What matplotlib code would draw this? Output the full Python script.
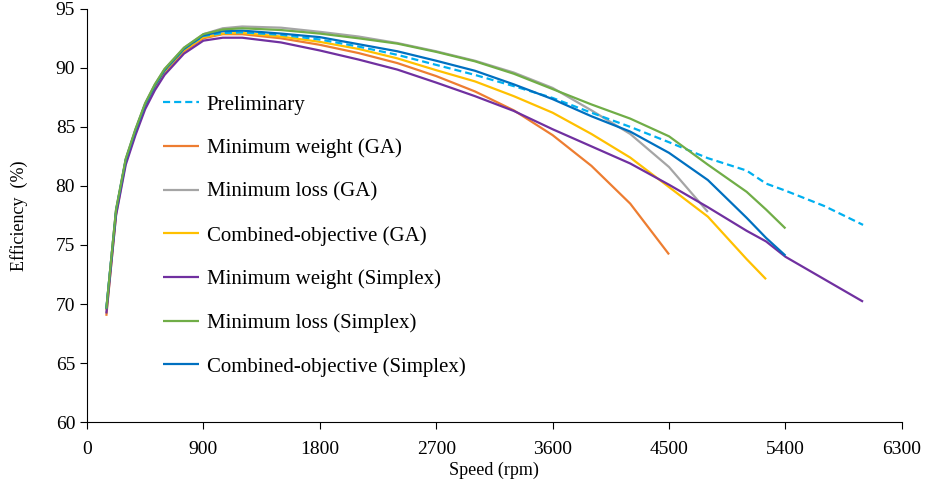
import numpy as np
import matplotlib
matplotlib.use("Agg")
import matplotlib.pyplot as plt

plt.rcParams['font.family'] = ['Liberation Serif', 'DejaVu Serif']

speed = [150, 225, 300, 375, 450, 525, 600, 750, 900, 1050, 1200, 1500, 1800, 2100, 2400, 2700,
         3000, 3300, 3600, 3900, 4200, 4500, 4800, 5100, 5250, 5400, 5700, 6000]

preliminary = [69.6, 77.9, 82.2, 84.7, 86.9, 88.5, 89.8, 91.6, 92.7, 92.95, 93.0, 92.8, 92.4, 91.8,
               91.1, 90.25, 89.4, 88.45, 87.45, 86.2, 85.0, 83.7, 82.35, 81.3, 80.2, 79.6, 78.3, 76.7]
min_weight_ga = [69.0, 77.6, 82.0, 84.5, 86.7, 88.3, 89.6, 91.4, 92.5, 92.85, 92.85, 92.5, 91.95,
                 91.25, 90.4, 89.3, 88.0, 86.4, 84.3, 81.7, 78.5, 74.2]
min_loss_ga = [69.6, 78.0, 82.3, 84.8, 87.0, 88.6, 89.9, 91.7, 92.85, 93.35, 93.5, 93.4, 93.05,
               92.65, 92.1, 91.4, 90.6, 89.6, 88.3, 86.4, 84.4, 81.6, 77.8]
combined_ga = [69.5, 77.8, 82.1, 84.6, 86.8, 88.4, 89.7, 91.5, 92.6, 92.9, 92.95, 92.65, 92.2,
               91.6, 90.8, 89.8, 88.85, 87.6, 86.2, 84.4, 82.4, 79.9, 77.4, 73.8, 72.1]
min_weight_simplex = [69.2, 77.5, 81.8, 84.3, 86.5, 88.1, 89.4, 91.2, 92.3, 92.55, 92.55, 92.15,
                      91.47, 90.7, 89.85, 88.75, 87.6, 86.35, 84.8, 83.35, 81.9, 80.1, 78.2, 76.2,
                      75.3, 74.0, 72.1, 70.2]
min_loss_simplex = [69.6, 78.0, 82.3, 84.8, 87.0, 88.6, 89.9, 91.7, 92.85, 93.25, 93.35, 93.2, 92.9,
                    92.5, 92.05, 91.35, 90.55, 89.5, 88.2, 86.9, 85.7, 84.2, 81.8, 79.5, 78.0, 76.4]
combined_simplex = [69.6, 77.9, 82.2, 84.7, 86.9, 88.5, 89.8, 91.6, 92.75, 93.1, 93.15, 92.9, 92.6,
                    92.0, 91.4, 90.6, 89.75, 88.6, 87.35, 85.9, 84.6, 82.8, 80.5, 77.3, 75.6, 74.1]

labels = ["Preliminary", "Minimum weight (GA)", "Minimum loss (GA)", "Combined-objective (GA)",
          "Minimum weight (Simplex)", "Minimum loss (Simplex)", "Combined-objective (Simplex)"]
series = [preliminary, min_weight_ga, min_loss_ga, combined_ga,
          min_weight_simplex, min_loss_simplex, combined_simplex]
colors = ["#00B0F0", "#ED7D31", "#A5A5A5", "#FFC000", "#7030A0", "#70AD47", "#0070C0"]
styles = ["--", "-", "-", "-", "-", "-", "-"]

xticks = [0, 900, 1800, 2700, 3600, 4500, 5400, 6300]
yticks = [60, 65, 70, 75, 80, 85, 90, 95]

fig = plt.figure(figsize=(9.25, 4.88), dpi=100)
ax = fig.add_axes([0.094, 0.135, 0.881, 0.847])

order = [2, 1, 3, 0, 4, 6, 5]
handles = {}
for i in order:
    ys = series[i]
    kw = dict(color=colors[i], lw=1.6, solid_capstyle='butt', solid_joinstyle='round')
    if styles[i] == "--":
        kw.update(linestyle=(0, (3.2, 1.8)))
    h, = ax.plot(speed[:len(ys)], ys, **kw)
    handles[i] = h

ax.set_xlim(0, 6300)
ax.set_ylim(60, 95)
ax.set_xticks(xticks)
ax.set_yticks(yticks)
ax.tick_params(axis='both', labelsize=14, direction='out', length=5, width=0.8, colors='black')
ax.tick_params(axis='x', pad=8.5)
for s in ['top', 'right']:
    ax.spines[s].set_visible(False)
ax.spines['left'].set_linewidth(0.8)
ax.spines['bottom'].set_linewidth(0.8)

ax.set_xlabel("Speed (rpm)", fontsize=13, labelpad=3)
ax.set_ylabel("Efficiency  (%)", fontsize=13, labelpad=20)

leg = ax.legend([handles[i] for i in range(7)], labels, loc='upper left',
                bbox_to_anchor=(163 / 925, 1 - 95 / 488), bbox_transform=fig.transFigure,
                frameon=False, fontsize=15, handlelength=1.75, handletextpad=0.35,
                labelspacing=1.15, borderpad=0, borderaxespad=0)

fig.savefig("out.png", dpi=100)
